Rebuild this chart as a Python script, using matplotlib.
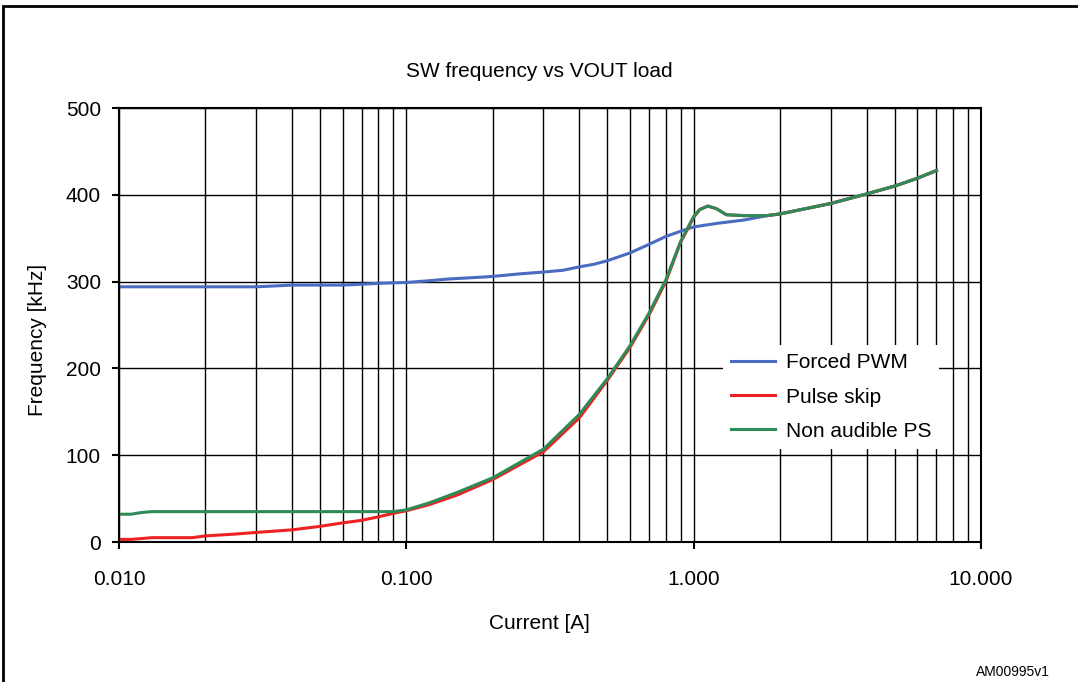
import matplotlib
matplotlib.use('Agg')
import matplotlib.pyplot as plt
from matplotlib.patches import Rectangle
from matplotlib.ticker import FixedLocator, FixedFormatter, NullFormatter

plt.rcParams['font.family'] = ['Liberation Sans', 'DejaVu Sans']

# Forced PWM
pwm_i = [0.010, 0.020, 0.030, 0.035, 0.040, 0.060, 0.070, 0.080, 0.100, 0.120, 0.140,
         0.180, 0.200, 0.250, 0.300, 0.350, 0.400, 0.450, 0.500, 0.600, 0.700, 0.800,
         0.900, 1.000, 1.200, 1.500, 1.800, 2.000, 3.000, 4.000, 5.000, 6.000, 7.000]
pwm_f = [294, 294, 294, 295, 296, 296, 297, 298, 299, 301, 303,
         305, 306, 309, 311, 313, 317, 320, 324, 333, 343, 352,
         358, 363, 367, 371, 376, 378, 390, 401, 410, 419, 428]

# Pulse skip
ps_i = [0.010, 0.011, 0.012, 0.013, 0.018, 0.020, 0.025, 0.030, 0.040, 0.050, 0.060,
        0.070, 0.080, 0.090, 0.100, 0.120, 0.150, 0.200, 0.300, 0.400, 0.500, 0.600,
        0.700, 0.800, 0.900, 1.000, 1.050, 1.120, 1.200, 1.300, 1.500, 1.800, 2.000,
        3.000, 4.000, 5.000, 6.000, 7.000]
ps_f = [3, 3, 4, 5, 5, 7, 9, 11, 14, 18, 22,
        25, 29, 33, 36, 43, 54, 72, 104, 143, 186, 224,
        262, 300, 345, 374, 383, 387, 384, 377, 376, 376, 378,
        390, 401, 410, 419, 428]

# Non audible PS
na_i = [0.010, 0.011, 0.012, 0.013, 0.020, 0.050, 0.080, 0.090, 0.100, 0.120, 0.150,
        0.200, 0.300, 0.400, 0.500, 0.600, 0.700, 0.800, 0.900, 1.000, 1.050, 1.120,
        1.200, 1.300, 1.500, 1.800, 2.000, 3.000, 4.000, 5.000, 6.000, 7.000]
na_f = [32, 32, 34, 35, 35, 35, 35, 35, 37, 45, 57,
        74, 107, 147, 188, 226, 264, 302, 346, 375, 383, 387,
        384, 377, 376, 376, 378, 390, 401, 410, 419, 428]

x_ticks = [0.01, 0.1, 1, 10]
x_labels = ['0.010', '0.100', '1.000', '10.000']
y_ticks = [0, 100, 200, 300, 400, 500]

fig = plt.figure(figsize=(10.78, 6.82), dpi=100)
ax = fig.add_axes([119 / 1078, 1 - 542 / 682, (981 - 119) / 1078, (542 - 108) / 682])

ax.plot(pwm_i, pwm_f, color='#4a6cc0', lw=2.2, label='Forced PWM')
ax.plot(ps_i, ps_f, color='#ee2222', lw=2.2, label='Pulse skip')
ax.plot(na_i, na_f, color='#2e8b57', lw=2.2, label='Non audible PS')

ax.set_xscale('log')
ax.set_xlim(0.01, 10)
ax.set_ylim(0, 500)
ax.xaxis.set_major_locator(FixedLocator(x_ticks))
ax.xaxis.set_major_formatter(FixedFormatter(x_labels))
minors = [m * d for d in [0.01, 0.1, 1] for m in range(2, 10)]
ax.xaxis.set_minor_locator(FixedLocator(minors))
ax.xaxis.set_minor_formatter(NullFormatter())
ax.set_yticks(y_ticks)

ax.grid(True, which='both', axis='x', color='black', lw=1)
ax.grid(True, which='major', axis='y', color='black', lw=1)
ax.set_axisbelow(True)
ax.tick_params(which='major', direction='out', length=5, width=1.5, labelsize=15)
ax.tick_params(axis='x', pad=15)
ax.tick_params(axis='y', pad=8)
ax.tick_params(which='minor', length=0)
for s in ax.spines.values():
    s.set_linewidth(1.5)

ax.set_xlabel('Current [A]', fontsize=15, labelpad=18)
ax.xaxis.set_label_coords(0.488, -0.165)
ax.set_ylabel('Frequency [kHz]', fontsize=15, labelpad=11)
ax.yaxis.set_label_coords(-0.083, 0.465)
ax.set_title('SW frequency vs VOUT load', fontsize=15, pad=22, x=0.488)

leg = ax.legend(loc='upper left', bbox_to_anchor=(0.7007, 0.454), frameon=True, fontsize=15,
                handlelength=2.1, handletextpad=0.5, labelspacing=0.73, borderpad=0.4,
                borderaxespad=0)
leg.get_frame().set_edgecolor('none')
leg.get_frame().set_facecolor('white')
leg.get_frame().set_alpha(1)
leg.get_frame().set_boxstyle('square', pad=0)

fig.text(1050 / 1078, 1 - 672 / 682, 'AM00995v1', ha='right', va='center', fontsize=10)

# outer frame
fig.patches.append(Rectangle((3 / 1078, -0.1), 1.2, 1.1 - 6 / 682, transform=fig.transFigure,
                             fill=False, edgecolor='black', lw=2, figure=fig))

fig.savefig('out.png', dpi=100)
